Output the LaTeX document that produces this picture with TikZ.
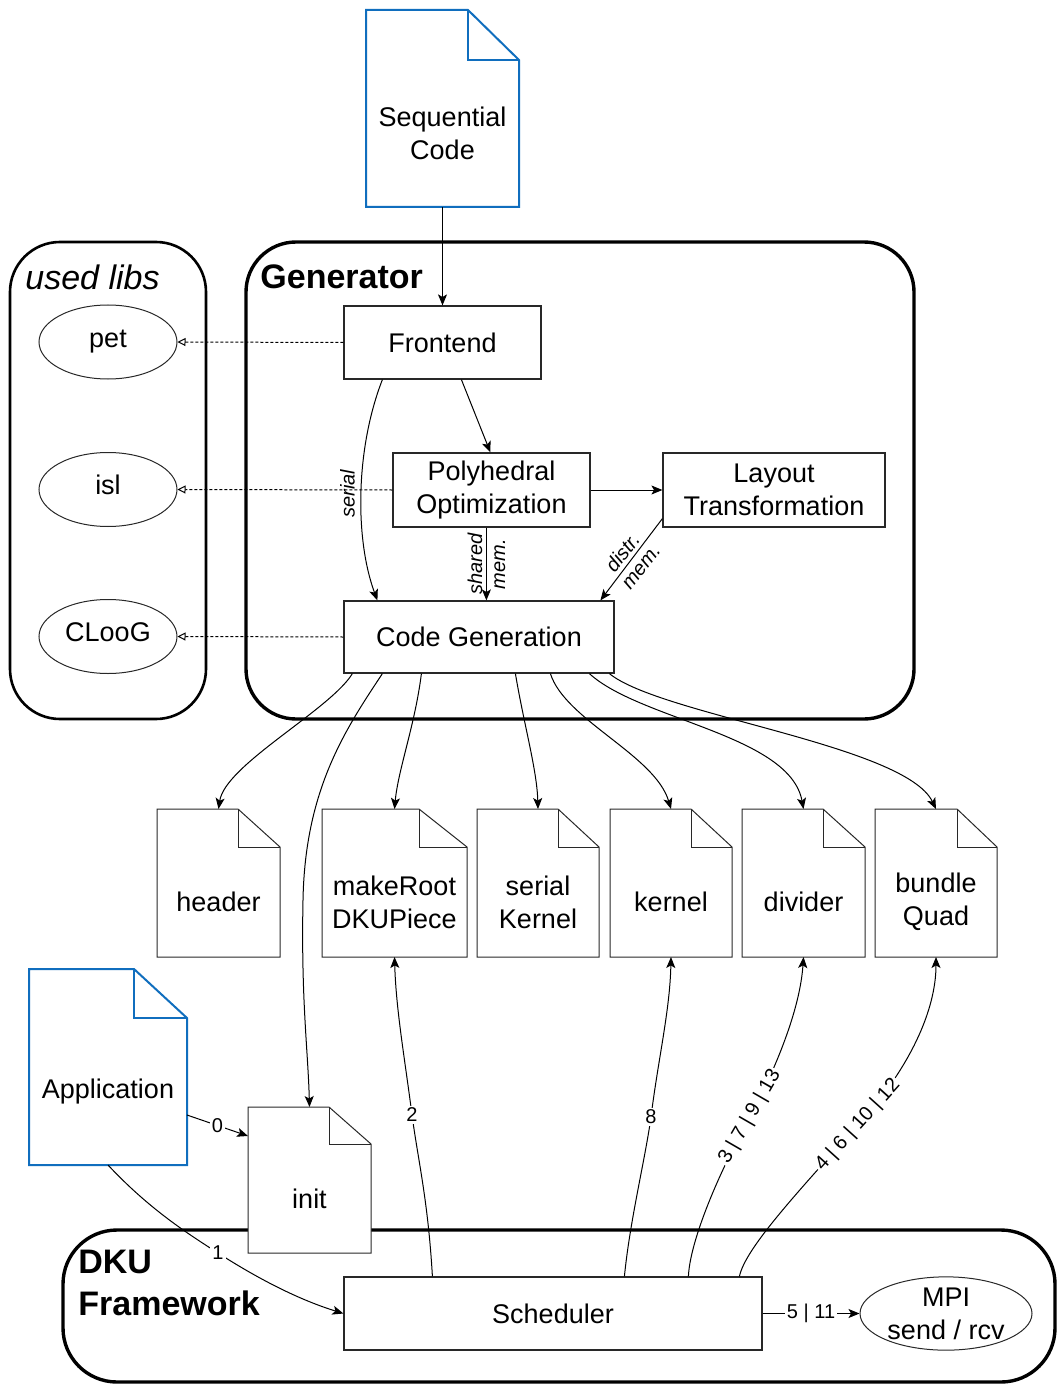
\documentclass[tikz,border=0pt]{standalone}
\usepackage{fontspec}
\setmainfont{Liberation Sans}
\usetikzlibrary{shapes.geometric,arrows.meta,calc}
\definecolor{docblue}{RGB}{16,110,190}
\definecolor{edgegray}{RGB}{40,40,40}

\newcommand\mydoc[8]{%
  \node[inner sep=0pt, outer sep=0pt, minimum width={(#4-#2)*0.5pt}, minimum height={(#5-#3)*0.5pt}] (#1) at ({(#2+#4)/2},{(#3+#5)/2}) {};
  \draw[#8, fill=white, line join=miter] (#2,#3) -- ({#4-#6},#3) -- (#4,{#3+#7}) -- (#4,#5) -- (#2,#5) -- cycle;
  \draw[#8, line join=miter] ({#4-#6},#3) -- ({#4-#6},{#3+#7}) -- (#4,{#3+#7});
}

\begin{document}
\begin{tikzpicture}[x=0.5pt,y=-0.5pt,
  font=\fontsize{13.5}{16.5}\selectfont,
  box/.style={draw=edgegray, line width=0.6pt, fill=white, inner sep=0pt, align=center},
  ell/.style={ellipse, draw=edgegray, line width=0.5pt, fill=white, inner sep=0pt, align=center},
  oneline/.style={text height=0.72em, text depth=0.21em},
  txt/.style={align=center, inner sep=0pt},
  conn/.style={line width=0.5pt, -{Stealth[length=5.5pt,width=4.5pt,inset=1.3pt]}},
  dep/.style={line width=0.5pt, dash pattern=on 1.5pt off 1pt, -{Triangle[open,length=4pt,width=4pt]}},
  small/.style={font=\fontsize{10}{12}\selectfont, inner sep=1pt, align=center},
  smallit/.style={font=\fontsize{10}{11.5}\selectfont\itshape, inner sep=1pt, align=center},
  title/.style={font=\fontsize{17}{21}\selectfont\bfseries, inner sep=0pt, align=left},
  thindoc/.style={draw=edgegray, line width=0.5pt},
  bluedoc/.style={draw=docblue, line width=1pt}
]
\useasboundingbox (0,0) rectangle (1057,1385);

% containers
\draw[line width=1.3pt, rounded corners=25pt] (10,242) rectangle (206,719);
\draw[line width=1.7pt, rounded corners=25pt] (246,242) rectangle (914,719);
\draw[line width=1.7pt, rounded corners=27pt] (63,1230) rectangle (1055,1382);

\node[title, font=\fontsize{17}{21}\selectfont\itshape, anchor=west] (libsT) at (25,277) {used libs};
\node[title, anchor=west] (genT) at (260,277) {Generator};
\node[title, anchor=north west] (dkuT) at (78,1250) {DKU\\Framework};

% documents
\mydoc{seq}{366}{10}{519}{207}{51}{50}{bluedoc}
\node[txt] (seqT) at (442.5,133.5) {Sequential\\Code};

% boxes
\node[box, minimum width=98.5pt, minimum height=36.5pt] (fe) at (442.5,342.5) {Frontend};
\node[box, minimum width=98.5pt, minimum height=37pt] (po) at (491.5,490) {Polyhedral\\Optimization};
\node[box, minimum width=111pt, minimum height=37pt] (lt) at (774,490) {Layout\\Transformation};
\node[box, minimum width=135pt, minimum height=36pt] (cg) at (479,637) {Code Generation};

\node[ell, oneline, minimum width=69pt, minimum height=37pt] (pet) at (108,342) {pet};
\node[ell, oneline, minimum width=69pt, minimum height=37pt] (isl) at (108,489.5) {isl};
\node[ell, oneline, minimum width=69pt, minimum height=37pt] (cloog) at (108,636.5) {CLooG};

% generator connectors
\draw[conn] (seq.south) -- (fe.north);
\draw[dep] (fe.west) -- (pet.east);
\draw[dep] (po.west) -- (isl.east);
\draw[dep] (cg.west) -- (cloog.east);
\draw[conn] ($(fe.south west)+(118,0)$) -- ($(po.north west)+(98,0)$);
\draw[conn] ($(fe.south west)+(39,0)$) .. controls (355,450) and (355,540) .. ($(cg.north west)+(34,0)$)
  node[pos=0.5, smallit, rotate=90, anchor=south, yshift=2pt] {serial};
\draw[conn] (po.east) -- (lt.west);
\draw[conn] ($(po.south west)+(94,0)$) -- ($(cg.north west)+(143,0)$)
  node[midway, smallit, rotate=90] {shared\\mem.};
\draw[conn] ($(lt.south west)+(0,-9)$) -- ($(cg.north west)+(257,0)$)
  node[midway, smallit, rotate=52] {distr.\\mem.};

% output documents
\mydoc{hdr}{157}{809}{280}{957}{42}{38}{thindoc}
\node[txt] (hdrT) at (218.5,902) {header};
\mydoc{mkr}{322}{809}{467}{957}{48}{38}{thindoc}
\node[txt] (mkrT) at (394.5,902) {makeRoot\\DKUPiece};
\mydoc{sk}{477}{809}{599}{957}{41}{38}{thindoc}
\node[txt] (skT) at (538,902) {serial\\Kernel};
\mydoc{kern}{610}{809}{732}{957}{41}{38}{thindoc}
\node[txt] (kernT) at (671,902) {kernel};
\mydoc{dvd}{742}{809}{865}{957}{42}{38}{thindoc}
\node[txt] (dvdT) at (803.5,902) {divider};
\mydoc{bq}{875}{809}{997}{957}{40}{38}{thindoc}
\node[txt] (bqT) at (936,902) {bundle\\Quad};

\draw[conn] ($(cg.south west)+(9,0)$) .. controls (330,710) and (225,765) .. (hdr.north);
\draw[conn] ($(cg.south west)+(39,0)$) .. controls (345,730) and (305,790) .. (303,900) .. controls (301,1000) and (308,1050) .. (309.5,1107);
\draw[conn] ($(cg.south west)+(78,0)$) .. controls (415,725) and (398,770) .. (mkr.north);
\draw[conn] ($(cg.south west)+(172,0)$) .. controls (524,725) and (537,770) .. (sk.north);
\draw[conn] ($(cg.south west)+(207,0)$) .. controls (565,720) and (655,755) .. (kern.north);
\draw[conn] ($(cg.south west)+(246,0)$) .. controls (640,720) and (790,735) .. (dvd.north);
\draw[conn] ($(cg.south west)+(266,0)$) .. controls (660,715) and (905,745) .. (bq.north);

% application and init
\mydoc{app}{29}{969}{187}{1165}{53}{49}{bluedoc}
\node[txt] (appT) at (108,1091.5) {Application};
\mydoc{init}{248}{1107}{371}{1253}{42}{37}{thindoc}
\node[txt] (initT) at (309.5,1198.5) {init};

% scheduler and MPI
\node[box, minimum width=209pt, minimum height=36.5pt] (sch) at (553,1313.5) {Scheduler};
\node[ell, minimum width=86pt, minimum height=36.5pt] (mpi) at (946,1313.5) {MPI\\send / rcv};

\draw[conn] ($(app.north east)+(0,146)$) -- ($(init.north west)+(0,29)$) node[midway, small, fill=white] {0};
\draw[conn] (app.south) .. controls (150,1210) and (190,1235) .. (218,1253) node[small, fill=white] {1}
  .. controls (260,1280) and (300,1300) .. (sch.west);
\draw[conn] (sch.east) -- (mpi.west) node[midway, small, fill=white] {5 | 11};

\draw[conn] ($(sch.north west)+(89,0)$) .. controls (428,1200) and (418,1160) .. (412,1115) node[small, fill=white] {2}
  .. controls (405,1060) and (396,1010) .. (mkr.south);
\draw[conn] ($(sch.north west)+(281,0)$) .. controls (630,1220) and (645,1160) .. (651,1117) node[small, fill=white] {8}
  .. controls (658,1060) and (670,1010) .. (kern.south);
\draw[conn] ($(sch.north west)+(345,0)$) .. controls (690,1240) and (720,1170) .. (750,1117) node[small, fill=white, rotate=60] {3 | 7 | 9 | 13}
  .. controls (775,1070) and (800,1010) .. (dvd.south);
\draw[conn] ($(sch.north west)+(396,0)$) .. controls (745,1250) and (790,1200) .. (858,1125) node[small, fill=white, rotate=48] {4 | 6 | 10 | 12}
  .. controls (910,1068) and (936,1010) .. (bq.south);
\end{tikzpicture}
\end{document}
